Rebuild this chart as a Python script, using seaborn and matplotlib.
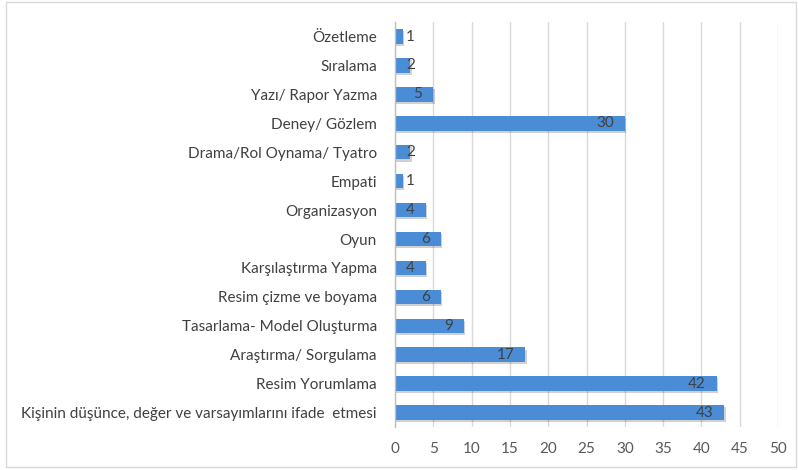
import matplotlib
matplotlib.use("Agg")
import matplotlib.pyplot as plt
import matplotlib.patheffects as pe
from matplotlib.patches import Rectangle
import seaborn as sns
import pandas as pd

categories = [
    "Özetleme",
    "Sıralama",
    "Yazı/ Rapor Yazma",
    "Deney/ Gözlem",
    "Drama/Rol Oynama/ Tyatro",
    "Empati",
    "Organizasyon",
    "Oyun",
    "Karşılaştırma Yapma",
    "Resim çizme ve boyama",
    "Tasarlama- Model Oluşturma",
    "Araştırma/ Sorgulama",
    "Resim Yorumlama",
    "Kişinin düşünce, değer ve varsayımlarını ifade  etmesi",
]
values = [1, 2, 5, 30, 2, 1, 4, 6, 4, 6, 9, 17, 42, 43]
x_ticks = [0, 5, 10, 15, 20, 25, 30, 35, 40, 45, 50]

df = pd.DataFrame({"cat": categories, "val": values})

sns.set_theme(style="white")
plt.rcParams["font.family"] = ["Lato", "DejaVu Sans"]

fig = plt.figure(figsize=(7.98, 4.70), dpi=100)
ax = fig.add_axes([0.495, 0.0915, 0.48, 0.8615])

sns.barplot(data=df, y="cat", x="val", order=categories, orient="h",
            color="#4A8DD6", saturation=1, width=0.5, ax=ax)
for p in ax.patches:
    p.set_edgecolor("none")
    p.set_path_effects([pe.SimplePatchShadow(offset=(1, -1.5), shadow_rgbFace="#000000", alpha=0.18),
                        pe.Normal()])

ax.set_xlim(0, 50)
ax.set_ylim(13.5, -0.5)
ax.set_xticks(x_ticks)
ax.set_xticklabels([str(t) for t in x_ticks], fontsize=11, color="#595959")
ax.set_yticklabels(categories, fontsize=11, color="#404040")
ax.tick_params(axis="both", length=0)
ax.tick_params(axis="y", pad=13)
ax.tick_params(axis="x", pad=11)
ax.set_xlabel("")
ax.set_ylabel("")
ax.grid(axis="x", color="#d9d9d9", linewidth=1)
ax.set_axisbelow(True)
for s in ["top", "right", "bottom"]:
    ax.spines[s].set_visible(False)
ax.spines["left"].set_color("#bfbfbf")
ax.spines["left"].set_linewidth(1)

for i, v in enumerate(values):
    nd = len(str(v))
    if v - 1.45 < 1.45 + 0.9 * nd:
        ax.text(1.45, i, str(v), ha="left", va="center", fontsize=11, color="#404040")
    else:
        ax.text(v - 1.45, i, str(v), ha="right", va="center", fontsize=11, color="#404040")

fig.patches.append(Rectangle((0.0075, 0.006), 0.99, 0.99, transform=fig.transFigure,
                             fill=False, edgecolor="#d9d9d9", linewidth=1))

fig.savefig("out.png", dpi=100)
